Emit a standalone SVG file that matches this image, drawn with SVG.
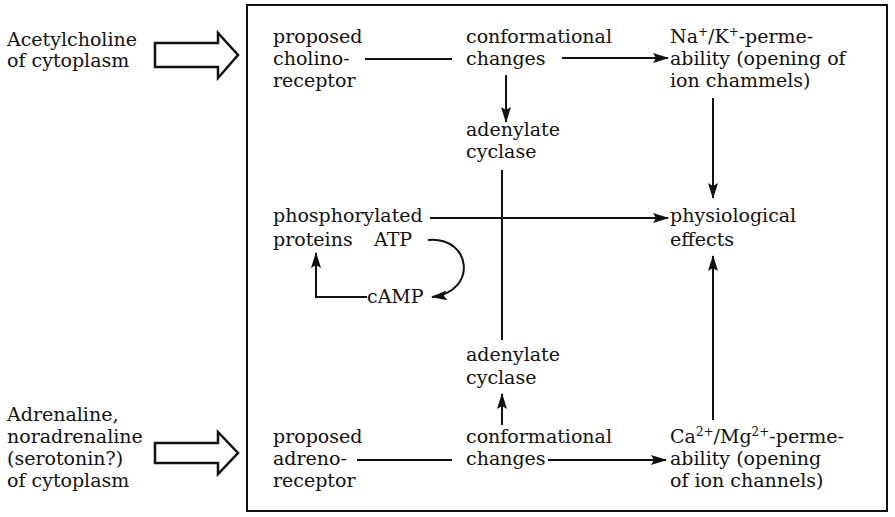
<svg xmlns="http://www.w3.org/2000/svg" width="895" height="517" viewBox="0 0 895 517">
<style>
text{font-family:"DejaVu Serif","Liberation Serif",serif;font-size:19px;fill:#111}
.ln{stroke:#111;stroke-width:2;fill:none}
.big{stroke:#111;stroke-width:2.5;fill:#fff;stroke-linejoin:miter}
.sup{font-size:12px}
</style>
<defs>
<marker id="ah" markerUnits="userSpaceOnUse" markerWidth="16" markerHeight="10" refX="15" refY="5" orient="auto">
<path d="M0,0 L16,5 L0,10 L3,5 z" fill="#111"/>
</marker>
</defs>
<rect x="247" y="5" width="640" height="506" fill="none" stroke="#111" stroke-width="2"/>
<g id="acetylcholine">
<text x="7" y="46">Acetylcholine</text>
<text x="7" y="67">of cytoplasm</text>
<polygon class="big" points="155,43 218,43 218,33 238,55 218,78 218,67 155,67"/>
</g>
<g id="adrenaline">
<text x="7" y="421">Adrenaline,</text>
<text x="7" y="443">noradrenaline</text>
<text x="7" y="465">(serotonin?)</text>
<text x="7" y="487">of cytoplasm</text>
<polygon class="big" points="155,443 218,443 218,432 238,453 218,474 218,463 155,463"/>
</g>
<g id="cholinoreceptor">
<text x="273" y="43">proposed</text>
<text x="273" y="65">cholino-</text>
<text x="273" y="87">receptor</text>
</g>
<g id="conf-top">
<text x="466" y="43">conformational</text>
<text x="466" y="65">changes</text>
</g>
<g id="na-k">
<text x="670" y="43">Na<tspan class="sup" dy="-7">+</tspan><tspan dy="7">/K</tspan><tspan class="sup" dy="-7">+</tspan><tspan dy="7">-perme-</tspan></text>
<text x="670" y="65">ability (opening of</text>
<text x="670" y="87">ion  chammels)</text>
</g>
<g id="adenylate-top">
<text x="466" y="136">adenylate</text>
<text x="466" y="158">cyclase</text>
</g>
<g id="phosphorylated">
<text x="273" y="222">phosphorylated</text>
<text x="273" y="246">proteins</text>
</g>
<g id="atp"><text x="374" y="246">ATP</text></g>
<g id="camp"><text x="367" y="303">cAMP</text></g>
<g id="effects">
<text x="670" y="222">physiological</text>
<text x="670" y="246">effects</text>
</g>
<g id="adenylate-bottom">
<text x="466" y="361">adenylate</text>
<text x="466" y="384">cyclase</text>
</g>
<g id="adrenoreceptor">
<text x="273" y="443">proposed</text>
<text x="273" y="465">adreno-</text>
<text x="273" y="487">receptor</text>
</g>
<g id="conf-bottom">
<text x="466" y="443">conformational</text>
<text x="466" y="465">changes</text>
</g>
<g id="ca-mg">
<text x="670" y="443">Ca<tspan class="sup" dy="-7">2+</tspan><tspan dy="7">/Mg</tspan><tspan class="sup" dy="-7">2+</tspan><tspan dy="7">-perme-</tspan></text>
<text x="670" y="465">ability (opening</text>
<text x="670" y="487">of ion channels)</text>
</g>
<g id="connectors">
<line class="ln" x1="365" y1="59" x2="452" y2="59"/>
<line class="ln" x1="562" y1="58" x2="668" y2="58" marker-end="url(#ah)"/>
<line class="ln" x1="506" y1="75" x2="506" y2="122" marker-end="url(#ah)"/>
<line class="ln" x1="502" y1="170" x2="502" y2="340"/>
<line class="ln" x1="713" y1="98" x2="713" y2="198" marker-end="url(#ah)"/>
<line class="ln" x1="430" y1="218" x2="668" y2="218" marker-end="url(#ah)"/>
<path class="ln" d="M428,240 C472,236 478,292 432,297" marker-end="url(#ah)"/>
<path class="ln" d="M367,297 H316 V253" marker-end="url(#ah)"/>
<line class="ln" x1="713" y1="420" x2="713" y2="256" marker-end="url(#ah)"/>
<line class="ln" x1="357" y1="460" x2="452" y2="460"/>
<line class="ln" x1="548" y1="460" x2="666" y2="460" marker-end="url(#ah)"/>
<line class="ln" x1="502" y1="425" x2="502" y2="394" marker-end="url(#ah)"/>
</g>
</svg>
